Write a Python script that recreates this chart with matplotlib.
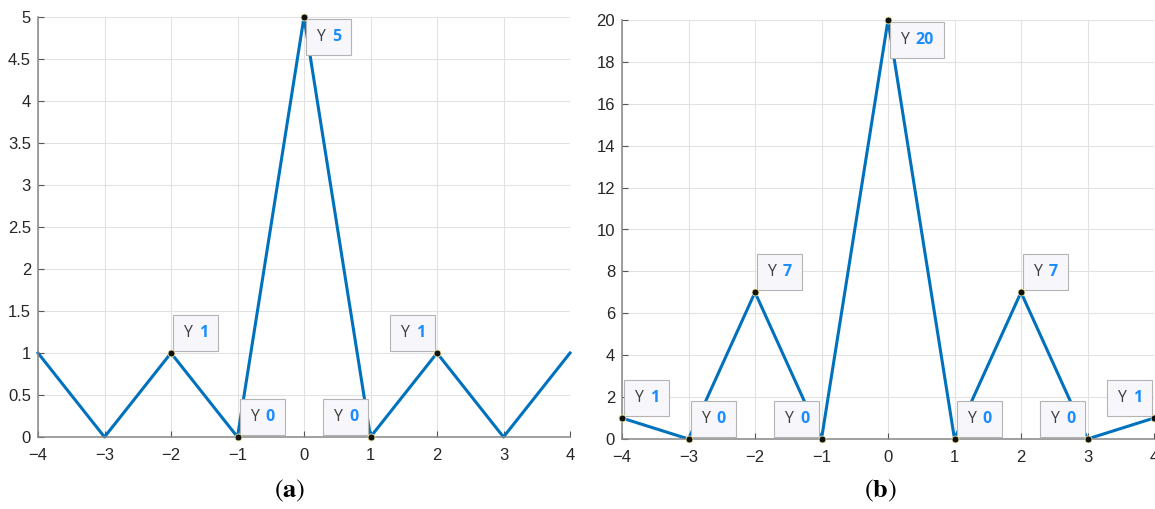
import numpy as np
import matplotlib.pyplot as plt
from matplotlib.offsetbox import AnnotationBbox, TextArea, HPacker

plt.rcParams['mathtext.fontset'] = 'stix'

x = [-4, -3, -2, -1, 0, 1, 2, 3, 4]
y_a = [1, 0, 1, 0, 5, 0, 1, 0, 1]
y_b = [1, 0, 7, 0, 20, 0, 7, 0, 1]

# data tips: (x, y, corner of the box at the point)
tips_a = [(-2, 1, 'ur'), (-1, 0, 'ur'), (0, 5, 'lr'), (1, 0, 'ul'), (2, 1, 'ul')]
tips_b = [(-4, 1, 'ur'), (-3, 0, 'ur'), (-2, 7, 'ur'), (-1, 0, 'ul'), (0, 20, 'lr'),
          (1, 0, 'ur'), (2, 7, 'ur'), (3, 0, 'ul'), (4, 1, 'ul')]

line_color = '#0072BD'
tip_blue = '#1a8cff'
tick_font = 'Liberation Sans'
tip_font = 'Open Sans'

PAD = 0.72   # box padding, fraction of 10 pt
GAP = 1.5    # points between the marker and the box corner


def add_tip(ax, xv, yv, where):
    # MATLAB-style datatip box: "Y" plus the value in bold blue
    label = TextArea('Y', textprops=dict(color='#404040', fontsize=11.5, family=tip_font))
    value = TextArea(str(yv), textprops=dict(color=tip_blue, fontsize=11.5,
                                             fontweight='bold', family=tip_font))
    box = HPacker(children=[label, value], align='baseline', pad=0, sep=5)
    off = PAD * 10 + GAP
    dx = off if where[1] == 'r' else -off
    dy = off if where[0] == 'u' else -off
    align = (0 if where[1] == 'r' else 1, 0 if where[0] == 'u' else 1)
    ab = AnnotationBbox(box, (xv, yv), xybox=(dx, dy), xycoords='data',
                        boxcoords='offset points', box_alignment=align, fontsize=10,
                        bboxprops=dict(boxstyle='square,pad=%g' % PAD, facecolor='#f7f7fb',
                                       edgecolor='#b4b4b4', linewidth=0.8),
                        annotation_clip=False, zorder=5)
    ax.add_artist(ab)
    ax.plot(xv, yv, 'o', color='#111111', markeredgecolor='#f0e6a0',
            markersize=5, markeredgewidth=0.6, zorder=6, clip_on=False)


def style_axes(ax, ymax, ystep):
    ax.set_xlim(-4, 4)
    ax.set_ylim(0, ymax)
    ax.set_xticks(np.arange(-4, 5, 1))
    yt = np.arange(0, ymax + ystep / 2, ystep)
    ax.set_yticks(yt)
    ax.set_yticklabels(['%g' % v for v in yt])
    ax.set_xticklabels(['%d' % v if v >= 0 else '\u2212%d' % -v for v in range(-4, 5)])
    ax.grid(True, color='#e2e2e2', linewidth=0.8)
    ax.set_axisbelow(True)
    for s in ['top', 'right']:
        ax.spines[s].set_visible(False)
    for s in ['left', 'bottom']:
        ax.spines[s].set_color('#868686')
        ax.spines[s].set_linewidth(1.1)
    ax.tick_params(direction='in', length=4, width=0.8, color='#555555',
                   labelsize=12, labelcolor='#262626')
    for lab in ax.get_xticklabels() + ax.get_yticklabels():
        lab.set_family(tick_font)
    ax.tick_params(axis='x', pad=8)
    ax.tick_params(axis='y', pad=5)


fig = plt.figure(figsize=(11.55, 5.09), dpi=100)
ax1 = fig.add_axes([38 / 1155, 72 / 509, 532 / 1155, 420 / 509])
ax2 = fig.add_axes([622 / 1155, 70 / 509, 532 / 1155, 419 / 509])

ax1.plot(x, y_a, color=line_color, linewidth=2.2, clip_on=False)
style_axes(ax1, 5, 0.5)
for xv, yv, w in tips_a:
    add_tip(ax1, xv, yv, w)

ax2.plot(x, y_b, color=line_color, linewidth=2.2, clip_on=False)
style_axes(ax2, 20, 2)
for xv, yv, w in tips_b:
    add_tip(ax2, xv, yv, w)

fig.text(290 / 1155, 1 - 491 / 509, r'($\mathbf{a}$)', ha='center', va='center',
         fontsize=19, family='STIXGeneral', color='black')
fig.text(880 / 1155, 1 - 491 / 509, r'($\mathbf{b}$)', ha='center', va='center',
         fontsize=19, family='STIXGeneral', color='black')

fig.savefig('out.png', dpi=100)
